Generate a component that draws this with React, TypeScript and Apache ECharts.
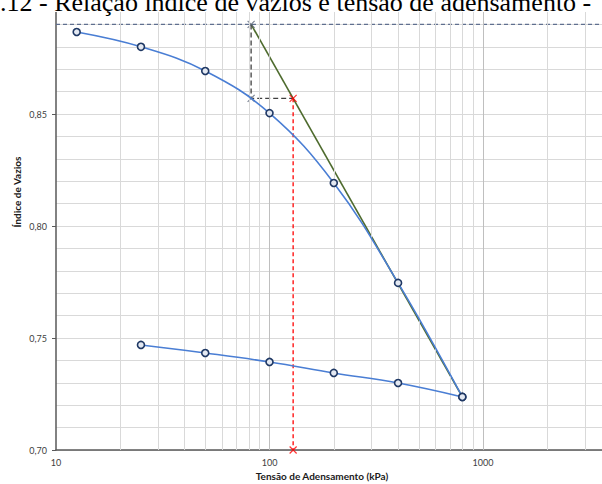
import React, { useEffect, useRef } from "react";
import * as echarts from "echarts";

const titleText = ".12 - Relação índice de vazios e tensão de adensamento -";
const xAxisName = "Tensão de Adensamento (kPa)";
const yAxisName = "Índice de Vazios";

const loadX = [12.5, 25, 50, 100, 200, 400, 800];
const loadE = [0.8866, 0.88, 0.8692, 0.8504, 0.8192, 0.7746, 0.7237];
const unloadX = [800, 400, 200, 100, 50, 25];
const unloadE = [0.7237, 0.7299, 0.7344, 0.7393, 0.7433, 0.7469];

const virginLineX = [82, 800];
const virginLineE = [0.89, 0.7237];
const topE = 0.89;
const constructX = [82, 82, 129];
const constructE = [0.89, 0.857, 0.857];
const preconX = [129, 129];
const preconE = [0.857, 0.7];

const xMinorGrid = [20, 30, 40, 50, 60, 70, 80, 90, 200, 300, 400, 500, 600, 700, 800, 900, 2000, 3000];
const xMajorGrid = [100, 1000];
const xTickLabels = [10, 100, 1000];

const X_MIN = 10;
const X_MAX = 3607;

const zip = (xs: number[], ys: number[]) => xs.map((x, i) => [x, ys[i]]);

const crossPath = "path://M0,0L10,10M10,0L0,10";

export default function App() {
  const ref = useRef<HTMLDivElement>(null);
  useEffect(() => {
    if (!ref.current) return;
    const chart = echarts.init(ref.current, undefined, { renderer: "svg" });
    const labelFont = "Lato, 'Open Sans', sans-serif";
    chart.setOption({
      animation: false,
      backgroundColor: "#ffffff",
      grid: { left: 56, right: 0, top: 2, bottom: 34, containLabel: false },
      xAxis: {
        type: "log",
        logBase: 10,
        min: X_MIN,
        max: X_MAX,
        axisLine: { show: true, lineStyle: { color: "#595959", width: 1.5 } },
        axisTick: { show: false },
        splitLine: { show: false },
        axisLabel: {
          showMaxLabel: false,
          color: "#404040",
          fontSize: 9,
          fontFamily: labelFont,
          margin: 8,
          formatter: (v: number) => (xTickLabels.some((t) => Math.abs(t - v) < 1e-6 * t) ? String(Math.round(v)) : ""),
        },
      },
      yAxis: {
        type: "value",
        min: 0.7,
        max: 0.9,
        interval: 0.05,
        axisLine: { show: true, lineStyle: { color: "#595959", width: 1.5 } },
        axisTick: { show: true, length: 4, lineStyle: { color: "#595959" } },
        splitLine: { show: true, lineStyle: { color: "#d9d9d9", width: 1 } },
        minorTick: { show: false, splitNumber: 5 },
        minorSplitLine: { show: true, lineStyle: { color: "#d9d9d9", width: 1 } },
        axisLabel: {
          color: "#404040",
          fontSize: 9,
          fontFamily: labelFont,
          margin: 9,
          formatter: (v: number) => (v > 0.89 ? "" : v.toFixed(2).replace(".", ",")),
        },
      },
      series: [
        {
          type: "line",
          data: [],
          z: 0,
          silent: true,
          markLine: {
            silent: true,
            symbol: "none",
            animation: false,
            label: { show: false },
            lineStyle: { color: "#d9d9d9", type: "solid", width: 1 },
            data: xMinorGrid.map((v) => ({ xAxis: v })),
          },
        },
        {
          type: "line",
          data: [],
          z: 0,
          silent: true,
          markLine: {
            silent: true,
            symbol: "none",
            animation: false,
            label: { show: false },
            lineStyle: { color: "#bfbfbf", type: "solid", width: 1 },
            data: xMajorGrid.map((v) => ({ xAxis: v })),
          },
        },
        {
          type: "line",
          data: [[X_MIN, topE], [X_MAX, topE]],
          showSymbol: false,
          symbol: "none",
          lineStyle: { color: "#5f6f8f", width: 1.3, type: [4, 3] },
          z: 2,
        },
        {
          type: "line",
          data: zip(virginLineX, virginLineE),
          symbol: "none",
          lineStyle: { color: "#4e6b2e", width: 1.6 },
          z: 2,
        },
        {
          type: "line",
          data: zip(constructX, constructE),
          symbol: "none",
          lineStyle: { color: "#404040", width: 1.3, type: [5, 3] },
          z: 3,
        },
        {
          type: "scatter",
          data: zip(constructX.slice(0, 2), constructE.slice(0, 2)),
          symbol: crossPath,
          symbolSize: 7,
          itemStyle: { color: "transparent", borderColor: "#5a6478", borderWidth: 1.2 },
          z: 4,
        },
        {
          type: "line",
          data: zip(preconX, preconE),
          symbol: "none",
          lineStyle: { color: "#ff0000", width: 1.3, type: [4, 3] },
          z: 3,
        },
        {
          type: "scatter",
          data: zip(preconX, preconE),
          symbol: crossPath,
          symbolSize: 7,
          itemStyle: { color: "transparent", borderColor: "#ff0000", borderWidth: 1.2 },
          z: 4,
        },
        {
          type: "line",
          data: zip(loadX, loadE),
          smooth: 0.4,
          symbol: "circle",
          symbolSize: 7,
          showAllSymbol: true,
          lineStyle: { color: "#4a7ed4", width: 1.6 },
          itemStyle: { color: "#e4e9f2", borderColor: "#1f3864", borderWidth: 1.6 },
          z: 5,
        },
        {
          type: "line",
          data: zip(unloadX, unloadE),
          smooth: 0.4,
          symbol: "circle",
          symbolSize: 7,
          showAllSymbol: true,
          lineStyle: { color: "#4a7ed4", width: 1.6 },
          itemStyle: { color: "#e4e9f2", borderColor: "#1f3864", borderWidth: 1.6 },
          z: 5,
        },
      ],
      graphic: [
        {
          type: "rect",
          left: 0,
          top: 0,
          shape: { x: 0, y: 0, width: 602, height: 12 },
          style: { fill: "#ffffff" },
          z: 100,
        },
        {
          type: "text",
          x: 0,
          y: 2,
          z: 101,
          style: {
            text: titleText,
            fill: "#000000",
            font: "26px 'Liberation Serif', 'Times New Roman', serif",
            verticalAlign: "middle",
            align: "left",
          },
        },
        {
          type: "text",
          x: 17,
          y: 192,
          rotation: Math.PI / 2,
          z: 10,
          style: {
            text: yAxisName,
            fill: "#1a1a1a",
            font: "bold 10px Lato, 'Open Sans', sans-serif",
            align: "center",
            verticalAlign: "middle",
          },
        },
        {
          type: "text",
          x: 322,
          y: 476,
          z: 10,
          style: {
            text: xAxisName,
            fill: "#1a1a1a",
            font: "bold 10px Lato, 'Open Sans', sans-serif",
            align: "center",
            verticalAlign: "middle",
          },
        },
      ],
    });
    return () => chart.dispose();
  }, []);
  return (
    <div
      ref={ref}
      style={{ position: "fixed", left: 0, top: 0, width: 602, height: 484 }}
    />
  );
}
